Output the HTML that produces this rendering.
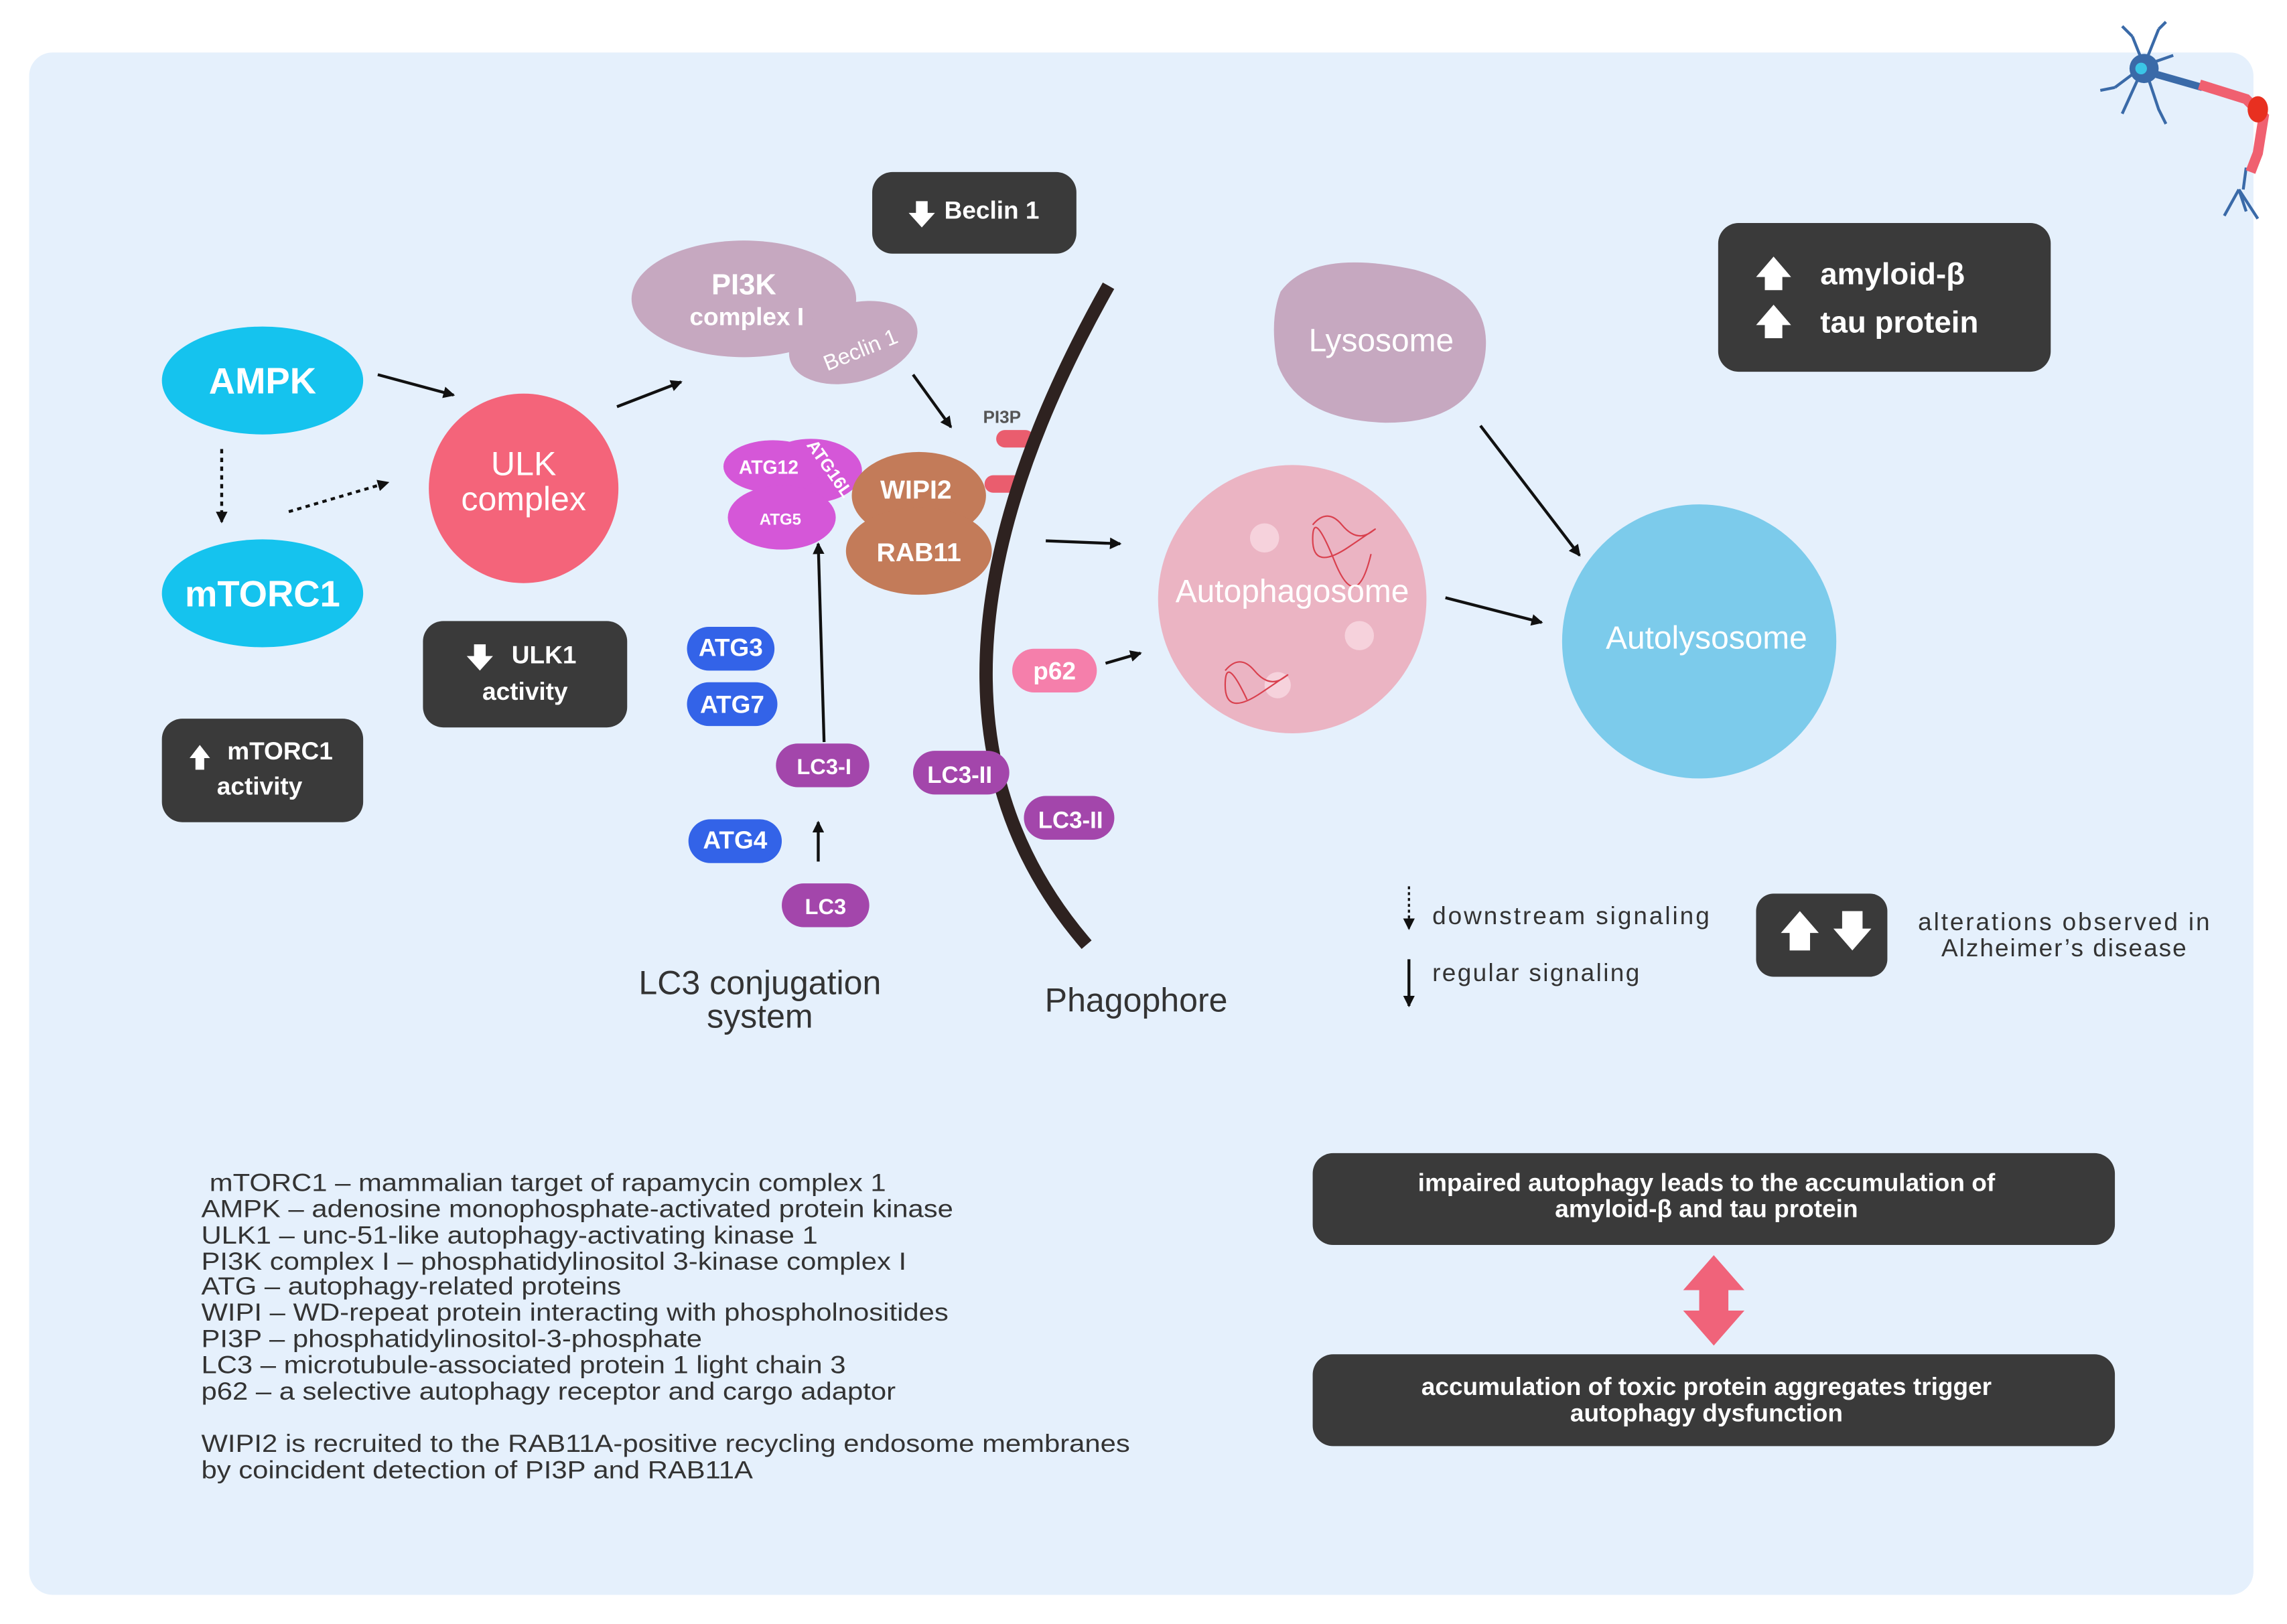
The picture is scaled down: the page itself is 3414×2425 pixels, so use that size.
<!DOCTYPE html>
<html><head><meta charset="utf-8"><style>
html,body{margin:0;padding:0;background:#fff;}
svg{display:block;}
text{font-family:"Liberation Sans",sans-serif;}
</style></head><body>
<svg width="3414" height="2425" viewBox="0 0 1568 1114" preserveAspectRatio="none" xmlns="http://www.w3.org/2000/svg">
<defs>
<marker id="ah" markerWidth="8" markerHeight="8" refX="7" refY="4" orient="auto" markerUnits="userSpaceOnUse"><path d="M0,0 L8,4 L0,8 z" fill="#111"/></marker>
</defs>
<rect x="0" y="0" width="1568" height="1114" fill="#fff"/>
<rect x="20" y="36" width="1525" height="1058" rx="16" fill="#e5f0fc"/>

<!-- neuron -->
<g stroke="#3a6aa8" stroke-width="2" fill="none">
<path d="M1470 45 L1462 25 M1470 45 L1480 20 M1470 45 L1450 60 M1470 45 L1455 78 M1470 45 L1490 38 M1470 45 L1480 75 L1485 85 M1450 60 L1440 62 M1462 25 L1455 18 M1480 20 L1485 15"/>
<path d="M1535 240 L1540 255 M1535 240 L1525 258 M1535 240 L1548 260" transform="translate(0,-110)"/>
<path d="M1540 115 L1538 130"/>
</g>
<circle cx="1470" cy="47" r="10" fill="#3a6aa8"/><circle cx="1468" cy="47" r="4" fill="#3bc6e6"/>
<path d="M1475 50 L1510 60" stroke="#3a6aa8" stroke-width="5"/>
<path d="M1508 58 L1540 68 L1552 80 L1548 105 L1543 118" stroke="#f06070" stroke-width="7" fill="none"/>
<ellipse cx="1548" cy="75" rx="7" ry="9" fill="#e83020"/>

<!-- AMPK / mTORC1 -->
<ellipse cx="180" cy="261" rx="69" ry="37" fill="#15c3ee"/>
<text x="180" y="270" text-anchor="middle" font-size="25" font-weight="bold" fill="#fff">AMPK</text>
<ellipse cx="180" cy="407" rx="69" ry="37" fill="#15c3ee"/>
<text x="180" y="416" text-anchor="middle" font-size="25" font-weight="bold" fill="#fff">mTORC1</text>
<line x1="152" y1="308" x2="152" y2="358" stroke="#111" stroke-width="2" stroke-dasharray="3,3" marker-end="url(#ah)"/>
<line x1="198" y1="351" x2="266" y2="331" stroke="#111" stroke-width="2" stroke-dasharray="3,3" marker-end="url(#ah)"/>
<line x1="259" y1="257" x2="311" y2="271" stroke="#111" stroke-width="2" marker-end="url(#ah)"/>
<rect x="111" y="493" width="138" height="71" rx="14" fill="#3a3a3a"/>
<path d="M130 520 l7 -9 l7 9 h-4 v8 h-6 v-8z" fill="#fff"/>
<text x="192" y="521" text-anchor="middle" font-size="17" font-weight="bold" fill="#fff">mTORC1</text>
<text x="178" y="545" text-anchor="middle" font-size="17" font-weight="bold" fill="#fff">activity</text>

<!-- ULK -->
<circle cx="359" cy="335" r="65" fill="#f4647a"/>
<text x="359" y="326" text-anchor="middle" font-size="23" fill="#fff">ULK</text>
<text x="359" y="350" text-anchor="middle" font-size="23" fill="#fff">complex</text>
<rect x="290" y="426" width="140" height="73" rx="14" fill="#3a3a3a"/>
<path d="M325 442 h8 v8 h5 l-9 10 l-9 -10 h5z" fill="#fff"/>
<text x="373" y="455" text-anchor="middle" font-size="17" font-weight="bold" fill="#fff">ULK1</text>
<text x="360" y="480" text-anchor="middle" font-size="17" font-weight="bold" fill="#fff">activity</text>
<line x1="423" y1="279" x2="467" y2="262" stroke="#111" stroke-width="2" marker-end="url(#ah)"/>

<!-- PI3K -->
<ellipse cx="510" cy="205" rx="77" ry="40" fill="#c6a8c0"/>
<ellipse cx="585" cy="235" rx="45" ry="27" fill="#c6a8c0" transform="rotate(-15 585 235)"/>
<text x="510" y="202" text-anchor="middle" font-size="20" font-weight="bold" fill="#fff">PI3K</text>
<text x="512" y="223" text-anchor="middle" font-size="17" font-weight="bold" fill="#fff">complex I</text>
<text x="590" y="245" text-anchor="middle" font-size="15" fill="#fff" transform="rotate(-22 590 240)">Beclin 1</text>
<rect x="598" y="118" width="140" height="56" rx="14" fill="#3a3a3a"/>
<path d="M628 138 h8 v8 h5 l-9 10 l-9 -10 h5z" fill="#fff"/>
<text x="680" y="150" text-anchor="middle" font-size="17" font-weight="bold" fill="#fff">Beclin 1</text>
<line x1="626" y1="257" x2="652" y2="293" stroke="#111" stroke-width="2" marker-end="url(#ah)"/>

<!-- ATG complex -->
<ellipse cx="556" cy="323" rx="35" ry="22" fill="#d557d8"/>
<ellipse cx="530" cy="320" rx="34" ry="18" fill="#d557d8"/>
<ellipse cx="536" cy="355" rx="37" ry="22" fill="#d557d8"/>
<text x="527" y="325" text-anchor="middle" font-size="13" font-weight="bold" fill="#fff">ATG12</text>
<text x="535" y="360" text-anchor="middle" font-size="11" font-weight="bold" fill="#fff">ATG5</text>
<text x="568" y="325" text-anchor="middle" font-size="12" font-weight="bold" fill="#fff" transform="rotate(55 568 322)">ATG16L</text>
<ellipse cx="630" cy="340" rx="46" ry="30" fill="#c37b59"/>
<ellipse cx="630" cy="378" rx="50" ry="30" fill="#c37b59"/>
<text x="628" y="342" text-anchor="middle" font-size="18" font-weight="bold" fill="#fff">WIPI2</text>
<text x="630" y="385" text-anchor="middle" font-size="18" font-weight="bold" fill="#fff">RAB11</text>
<text x="687" y="290" text-anchor="middle" font-size="12" font-weight="bold" fill="#555">PI3P</text>
<rect x="683" y="295" width="26" height="12" rx="6" fill="#ea5d6e"/>
<rect x="675" y="326" width="26" height="12" rx="6" fill="#ea5d6e"/>

<!-- phagophore -->
<path d="M760 196 Q600 480 745 648" stroke="#2e2220" stroke-width="9" fill="none"/>
<line x1="717" y1="371" x2="768" y2="373" stroke="#111" stroke-width="2" marker-end="url(#ah)"/>

<!-- LC3 -->
<rect x="471" y="430" width="60" height="30" rx="15" fill="#3363e8"/><text x="501" y="450" text-anchor="middle" font-size="17" font-weight="bold" fill="#fff">ATG3</text>
<rect x="471" y="468" width="62" height="30" rx="15" fill="#3363e8"/><text x="502" y="489" text-anchor="middle" font-size="17" font-weight="bold" fill="#fff">ATG7</text>
<rect x="472" y="562" width="64" height="30" rx="15" fill="#3363e8"/><text x="504" y="582" text-anchor="middle" font-size="17" font-weight="bold" fill="#fff">ATG4</text>
<rect x="532" y="510" width="64" height="30" rx="15" fill="#a346ab"/><text x="565" y="531" text-anchor="middle" font-size="15" font-weight="bold" fill="#fff">LC3-I</text>
<rect x="536" y="606" width="60" height="30" rx="15" fill="#a346ab"/><text x="566" y="627" text-anchor="middle" font-size="15" font-weight="bold" fill="#fff">LC3</text>
<rect x="626" y="515" width="66" height="30" rx="15" fill="#a346ab"/><text x="658" y="537" text-anchor="middle" font-size="16" font-weight="bold" fill="#fff">LC3-II</text>
<rect x="702" y="546" width="62" height="30" rx="15" fill="#a346ab"/><text x="734" y="568" text-anchor="middle" font-size="16" font-weight="bold" fill="#fff">LC3-II</text>
<line x1="565" y1="509" x2="561" y2="373" stroke="#111" stroke-width="2" marker-end="url(#ah)"/>
<line x1="561" y1="591" x2="561" y2="564" stroke="#111" stroke-width="2" marker-end="url(#ah)"/>
<rect x="694" y="445" width="58" height="30" rx="15" fill="#f57fab"/><text x="723" y="466" text-anchor="middle" font-size="17" font-weight="bold" fill="#fff">p62</text>
<line x1="758" y1="455" x2="782" y2="448" stroke="#111" stroke-width="2" marker-end="url(#ah)"/>
<text x="521" y="682" text-anchor="middle" font-size="23" fill="#333">LC3 conjugation</text>
<text x="521" y="705" text-anchor="middle" font-size="23" fill="#333">system</text>
<text x="779" y="694" text-anchor="middle" font-size="23" fill="#333">Phagophore</text>

<!-- autophagosome etc -->
<circle cx="886" cy="411" r="92" fill="#ebb4c3"/>
<circle cx="867" cy="369" r="10" fill="#f6d2dc"/><circle cx="932" cy="436" r="10" fill="#f6d2dc"/><circle cx="876" cy="470" r="9" fill="#f6d2dc"/>
<g stroke="#d9404e" stroke-width="1" fill="none"><path d="M900 360 q10 -12 20 0 t20 5 t-15 10 t-25 -5 t15 15 t25 -5"/><path d="M840 460 q10 -12 20 0 t20 5 t-15 10 t-25 -5 t15 10"/></g>
<text x="886" y="413" text-anchor="middle" font-size="22" fill="#fff">Autophagosome</text>
<path d="M878 200 Q900 170 970 185 Q1025 200 1018 245 Q1010 290 950 290 Q890 288 876 250 Q870 220 878 200z" fill="#c6a8c0"/>
<text x="947" y="241" text-anchor="middle" font-size="22" fill="#fff">Lysosome</text>
<circle cx="1165" cy="440" r="94" fill="#7ccbeb"/>
<text x="1170" y="445" text-anchor="middle" font-size="22" fill="#fff">Autolysosome</text>
<line x1="1015" y1="292" x2="1083" y2="381" stroke="#111" stroke-width="2" marker-end="url(#ah)"/>
<line x1="991" y1="410" x2="1057" y2="427" stroke="#111" stroke-width="2" marker-end="url(#ah)"/>

<rect x="1178" y="153" width="228" height="102" rx="14" fill="#3a3a3a"/>
<path d="M1204 190 l12 -14 l12 14 h-6 v9 h-12 v-9z" fill="#fff"/>
<path d="M1204 223 l12 -14 l12 14 h-6 v9 h-12 v-9z" fill="#fff"/>
<text x="1248" y="195" font-size="21" font-weight="bold" fill="#fff">amyloid-β</text>
<text x="1248" y="228" font-size="21" font-weight="bold" fill="#fff">tau protein</text>

<!-- legend -->
<line x1="966" y1="608" x2="966" y2="637" stroke="#111" stroke-width="1.5" stroke-dasharray="2,2" marker-end="url(#ah)"/>
<text x="982" y="634" font-size="17" fill="#333" textLength="190">downstream signaling</text>
<line x1="966" y1="658" x2="966" y2="690" stroke="#111" stroke-width="2" marker-end="url(#ah)"/>
<text x="982" y="673" font-size="17" fill="#333" textLength="142">regular signaling</text>
<rect x="1204" y="613" width="90" height="57" rx="12" fill="#3a3a3a"/>
<path d="M1221 640 l13 -15 l13 15 h-6 v12 h-14 v-12z" fill="#fff"/>
<path d="M1263 625 h14 v12 h6 l-13 15 l-13 -15 h6z" fill="#fff"/>
<text x="1415" y="638" text-anchor="middle" font-size="17" fill="#333" textLength="200">alterations observed in</text>
<text x="1415" y="656" text-anchor="middle" font-size="17" fill="#333" textLength="168">Alzheimer’s disease</text>

<!-- abbreviations -->
<g font-size="17" fill="#333" transform="translate(138,0) scale(1.13,1) translate(-138,0)">
<text x="143" y="817">mTORC1 – mammalian target of rapamycin complex 1</text>
<text x="138" y="835">AMPK – adenosine monophosphate-activated protein kinase</text>
<text x="138" y="853">ULK1 – unc-51-like autophagy-activating kinase 1</text>
<text x="138" y="871">PI3K complex I – phosphatidylinositol 3-kinase complex I</text>
<text x="138" y="888">ATG – autophagy-related proteins</text>
<text x="138" y="906">WIPI – WD-repeat protein interacting with phospholnositides</text>
<text x="138" y="924">PI3P – phosphatidylinositol-3-phosphate</text>
<text x="138" y="942">LC3 – microtubule-associated protein 1 light chain 3</text>
<text x="138" y="960">p62 – a selective autophagy receptor and cargo adaptor</text>
<text x="138" y="996">WIPI2 is recruited to the RAB11A-positive recycling endosome membranes</text>
<text x="138" y="1014">by coincident detection of PI3P and RAB11A</text>
</g>

<rect x="900" y="791" width="550" height="63" rx="14" fill="#3a3a3a"/>
<text x="1170" y="817" text-anchor="middle" font-size="17" font-weight="bold" fill="#fff">impaired autophagy leads to the accumulation of</text>
<text x="1170" y="835" text-anchor="middle" font-size="17" font-weight="bold" fill="#fff">amyloid-β and tau protein</text>
<rect x="900" y="929" width="550" height="63" rx="14" fill="#3a3a3a"/>
<text x="1170" y="957" text-anchor="middle" font-size="17" font-weight="bold" fill="#fff">accumulation of toxic protein aggregates trigger</text>
<text x="1170" y="975" text-anchor="middle" font-size="17" font-weight="bold" fill="#fff">autophagy dysfunction</text>
<path d="M1175 861 L1196 885 H1185 V899 H1196 L1175 923 L1154 899 H1165 V885 H1154 Z" fill="#f0637a"/>
</svg>
</body></html>
